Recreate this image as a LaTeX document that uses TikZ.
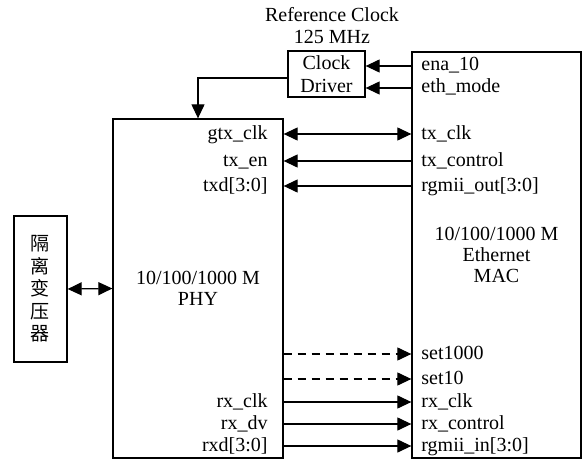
\documentclass[tikz,border=0pt]{standalone}
\usepackage{fontspec}
\setmainfont{Liberation Serif}
\newfontfamily\cjk{Noto Sans CJK SC}
\usetikzlibrary{arrows.meta}
\tikzset{block/.style={draw,line width=0.65pt,inner sep=0pt,align=center,
    font=\fontsize{10}{10.5}\selectfont}}
\tikzset{sig/.style={-{Triangle[length=7pt,width=6.5pt]},line width=0.6pt}}
\tikzset{both sig/.style={{Triangle[length=7pt,width=6.5pt]}-{Triangle[length=7pt,width=6.5pt]},line width=0.6pt}}
\tikzset{opt sig/.style={sig,dash pattern=on 4pt off 3pt}}
\tikzset{lab/.style={inner sep=0pt,text height=6.5pt,text depth=1.5pt,
    font=\fontsize{10}{10.5}\selectfont}}
\tikzset{phy lab/.style={lab,anchor=east}}
\tikzset{mac lab/.style={lab,anchor=west}}

\begin{document}
\begin{tikzpicture}[x=0.5pt,y=-0.5pt]
\useasboundingbox (0,0) rectangle (588,460);

% blocks
\node[block,minimum width=85pt,minimum height=169.5pt] (phy) at (198,288.5)
    {10/100/1000 M\\PHY};
\node[block,minimum width=84.5pt,minimum height=203pt] (mac) at (496.5,255)
    {10/100/1000 M\\Ethernet\\MAC};
\node[block,minimum width=38.5pt,minimum height=23pt] (clk) at (326.5,74)
    {\raisebox{-1.5pt}{\shortstack{Clock\\[1.5pt]Driver}}};
\node[block,minimum width=26.5pt,minimum height=73pt,
    font=\cjk\fontsize{9.5}{11.25}\selectfont] (xfmr) at (40.5,289)
    {隔\\离\\变\\压\\器};
\node[align=center,inner sep=0pt,font=\fontsize{10}{11}\selectfont] (ref) at (332,26)
    {Reference Clock\\125 MHz};

% PHY side labels
\node[phy lab] (gtxclk) at (268,134) {gtx\_clk};
\node[phy lab] (txen) at (268,161) {tx\_en};
\node[phy lab] (txd) at (268,186) {txd[3:0]};
\node[phy lab] (rxclkP) at (268,402) {rx\_clk};
\node[phy lab] (rxdv) at (268,424) {rx\_dv};
\node[phy lab] (rxd) at (268,446) {rxd[3:0]};

% MAC side labels
\node[mac lab] (ena) at (421,66) {ena\_10};
\node[mac lab] (ethmode) at (421,88) {eth\_mode};
\node[mac lab] (txclk) at (421,134) {tx\_clk};
\node[mac lab] (txctl) at (421,161) {tx\_control};
\node[mac lab] (rgout) at (421,186) {rgmii\_out[3:0]};
\node[mac lab] (set1000) at (421,354) {set1000};
\node[mac lab] (set10) at (421,379) {set10};
\node[mac lab] (rxclk) at (421,402) {rx\_clk};
\node[mac lab] (rxctl) at (421,424) {rx\_control};
\node[mac lab] (rgin) at (421,446) {rgmii\_in[3:0]};

% clock
\draw[sig] (mac.west |- ena) -- (clk.east |- ena);
\draw[sig] (mac.west |- ethmode) -- (clk.east |- ethmode);
\draw[sig] ([yshift=-2pt]clk.west) -| (phy.north);

% transmit
\draw[both sig] (phy.east |- txclk) -- (mac.west |- txclk);
\draw[sig] (mac.west |- txctl) -- (phy.east |- txctl);
\draw[sig] (mac.west |- rgout) -- (phy.east |- rgout);

% receive
\draw[opt sig] (phy.east |- set1000) -- (mac.west |- set1000);
\draw[opt sig] (phy.east |- set10) -- (mac.west |- set10);
\draw[sig] (phy.east |- rxclk) -- (mac.west |- rxclk);
\draw[sig] (phy.east |- rxctl) -- (mac.west |- rxctl);
\draw[sig] (phy.east |- rgin) -- (mac.west |- rgin);

% line side
\draw[both sig] (xfmr.east) -- (phy.west);

\end{tikzpicture}
\end{document}
